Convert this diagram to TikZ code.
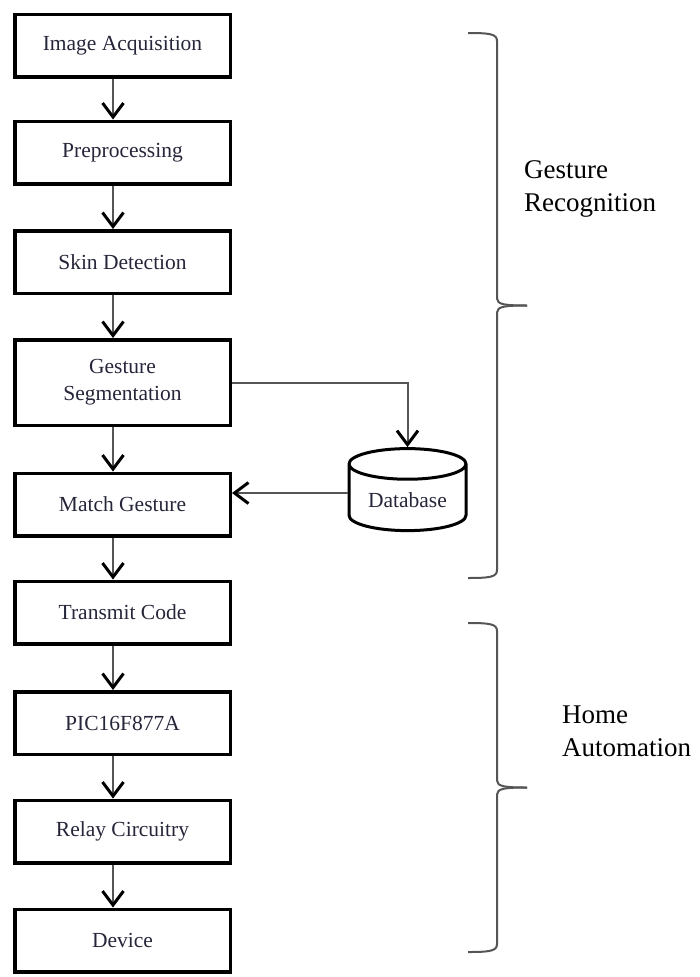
\documentclass[tikz,border=0pt]{standalone}
\usepackage{fontspec}
\setmainfont{Liberation Serif}
\usetikzlibrary{arrows.meta,shapes.geometric}

\definecolor{labelink}{RGB}{38,38,58}
\definecolor{wireink}{RGB}{85,85,85}

\tikzset{
  stage/.style={draw=black, line width=3.5pt, minimum width=215.5pt, minimum height=62.5pt,
    inner sep=2pt, align=center, font=\fontsize{21.5}{27}\selectfont, text=labelink},
  store/.style={cylinder, shape border rotate=90, aspect=0.37, draw=black, line width=3pt,
    minimum width=117pt, minimum height=82pt, inner sep=2pt,
    font=\fontsize{21.5}{27}\selectfont, text=labelink},
  flow/.style={draw=wireink, line width=2pt,
    -{Straight Barb[length=14pt,width=21pt,line width=3pt,black]}},
  bracket/.style={draw=wireink, line width=2pt},
  phase/.style={align=left, anchor=north west, inner sep=0pt,
    font=\fontsize{27}{33}\selectfont, text=black}
}

\begin{document}
\begin{tikzpicture}[x=1pt,y=-1pt]
    \useasboundingbox (0,0) rectangle (699,977);

    % processing chain
    \node[stage] (acq)   at (122.5, 45.5) {Image Acquisition};
    \node[stage] (pre)   at (122.5,152.5) {Preprocessing};
    \node[stage] (skin)  at (122.5,262.0) {Skin Detection};
    \node[stage, minimum height=85.5pt] (seg) at (122.5,382.5) {Gesture\\Segmentation};
    \node[stage] (match) at (122.5,504.5) {Match Gesture};
    \node[stage] (send)  at (122.5,612.5) {Transmit Code};
    \node[stage] (pic)   at (122.5,723.0) {PIC16F877A};
    \node[stage] (relay) at (122.5,831.5) {Relay Circuitry};
    \node[stage] (dev)   at (122.5,940.5) {Device};

    \node[store] (db) at (407.5,500) {Database};

    \foreach\a/\b in {acq/pre,pre/skin,skin/seg,seg/match,match/send,send/pic,pic/relay,relay/dev}
    {   \draw[flow] ([xshift=-9.5pt]\a.south) -- ([xshift=-9.5pt]\b.north);
    }

    \draw[flow] (seg.east) -| (db.north);
    \draw[flow] ([yshift=7pt]db.west) -- ([yshift=7pt]db.west -| match.east);

    % braces
    \foreach\t/\b/\m in {33/578/305.5,623/952/787.5}
    {   \draw[bracket] (468,\t) .. controls (490,\t) and (497,\t+1) .. (497,\t+8)
            -- (497,\m-7) .. controls (497,\m-1) and (505,\m) .. (527,\m);
        \draw[bracket] (527,\m) .. controls (505,\m) and (497,\m+1) .. (497,\m+7)
            -- (497,\b-8) .. controls (497,\b-1) and (490,\b) .. (468,\b);
    }

    \node[phase] (recog) at (524,160) {Gesture\\Recognition};
    \node[phase] (home)  at (562,706) {Home\\Automation};
\end{tikzpicture}
\end{document}
